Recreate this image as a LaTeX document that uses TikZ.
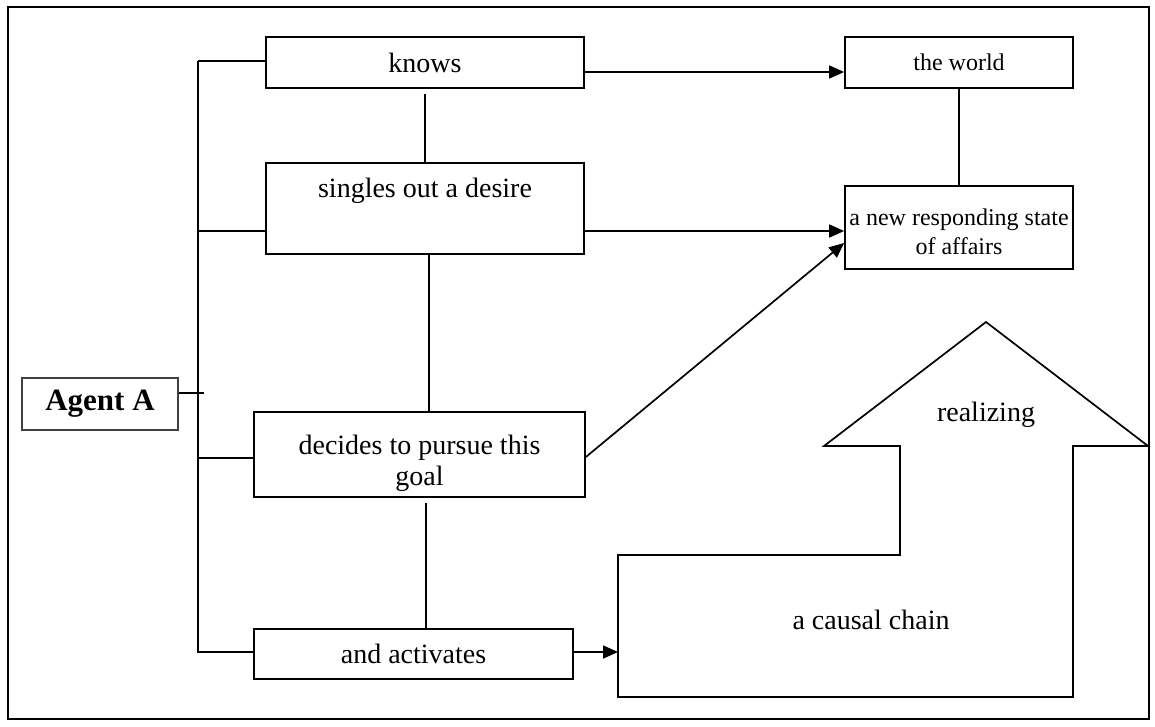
\documentclass[tikz,border=0pt]{standalone}
\usepackage{fontspec}
\setmainfont{Liberation Serif}
\usetikzlibrary{arrows.meta}
\begin{document}
\begin{tikzpicture}[x=1pt,y=-1pt,
  line width=1.7pt,
  txt/.style={font=\fontsize{28}{31}\selectfont},
  small/.style={font=\fontsize{24}{29}\selectfont},
  box/.style={draw, rectangle, inner sep=0pt, txt},
  lbl/.style={txt, inner sep=0pt, align=center},
  arr/.style={-{Triangle[length=15pt,width=13pt]}},
]
\useasboundingbox (0,0) rectangle (1155,726);
% outer frame
\draw (8,7) rectangle (1149,719);

% agent and the four activity boxes
\node[box, line width=1.1pt, draw=black!75, minimum width=156pt, minimum height=52pt,
      font=\fontsize{31}{36}\selectfont\bfseries] (agent) at (100,404) {Agent A};
\node[box, minimum width=318pt, minimum height=51pt] (knows) at (425,62.5) {knows};
\node[box, minimum width=318pt, minimum height=91pt] (singles) at (425,208.5) {};
\node[lbl] (singlestxt) at (425,191) {singles out a desire};
\node[box, minimum width=331pt, minimum height=85pt] (decides) at (419.5,454.5) {};
\node[lbl] (decidestxt) at (419.5,463) {decides to pursue this\\goal};
\node[box, minimum width=319pt, minimum height=50pt] (activates) at (413.5,654) {and activates};

% right-hand boxes
\node[box, small, minimum width=228pt, minimum height=51pt] (world) at (959,62.5) {the world};
\node[box, minimum width=228pt, minimum height=83pt] (newstate) at (959,227.5) {};
\node[lbl, small] (newtxt) at (959,232) {a new responding state\\of affairs};

% the causal chain arrow shape
\coordinate (c1) at (618,697);
\coordinate (c2) at (618,555);
\coordinate (c3) at (900,555);
\coordinate (c4) at (900,446);
\coordinate (c5) at (824,446);
\coordinate (c6) at (986,322);
\coordinate (c7) at (1148,446);
\coordinate (c8) at (1073,446);
\coordinate (c9) at (1073,697);
\draw[line join=miter] (c1) -- (c2) -- (c3) -- (c4) -- (c5) -- (c6) -- (c7) -- (c8) -- (c9) -- cycle;
\node[lbl] (realizing) at (986,415) {realizing};
\node[lbl] (chain) at (871,620) {a causal chain};
\coordinate (chainin) at (618,652);

% bracket from the agent to the activities
\coordinate (bustop) at (198,61);
\coordinate (busbot) at (198,652);
\draw (bustop) -- (knows.west |- bustop);
\draw (bustop) -- (busbot) -- (activates.west |- busbot);
\draw (198,231) -- (singles.west |- 0,231);
\draw (198,458) -- (decides.west |- 0,458);
\draw ([yshift=11pt]agent.east) -- ++(25,0);

% links between the activities
\draw (425,94) -- (singles.north -| 425,0);
\draw (singles.south -| 429,0) -- (decides.north -| 429,0);
\draw (426,503) -- (activates.north -| 426,0);
\draw (world.south) -- (newstate.north);

% arrows
\draw[arr] (knows.east |- 0,72) -- (world.west |- 0,72);
\draw[arr] (singles.east |- 0,231) -- (newstate.west |- 0,231);
\draw[arr] (decides.east |- 0,457) -- (newstate.west |- 0,243);
\draw[arr] (activates.east |- chainin) -- (chainin);
\end{tikzpicture}
\end{document}
